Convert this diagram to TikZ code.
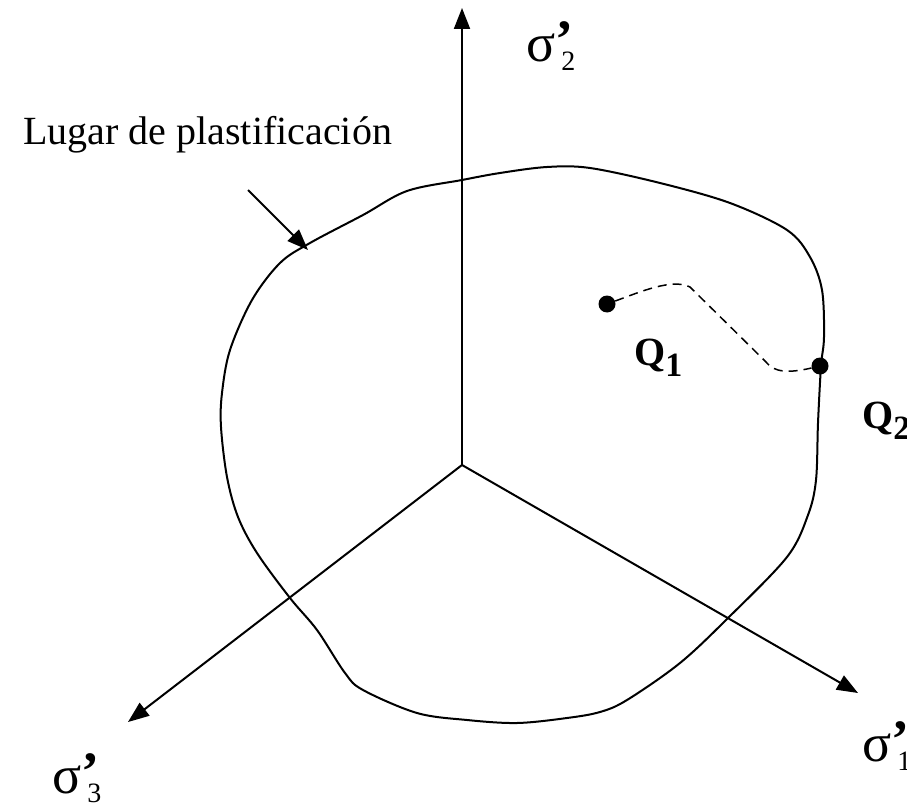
\documentclass[tikz,border=0pt]{standalone}
\usepackage{fontspec}
\setmainfont{Liberation Serif}
\usetikzlibrary{arrows.meta}

\newcommand{\sig}[1]{{\fontsize{54}{54}\selectfont σ\raisebox{4pt}{\bfseries ’}}\kern-12pt\raisebox{-9pt}{\fontsize{28}{28}\selectfont #1}}
\newcommand{\qpt}[1]{\textbf{Q\raisebox{-11pt}{\fontsize{34}{34}\selectfont #1}}}

\begin{document}
\begin{tikzpicture}[
    x=1pt, y=-1pt,
    % Style definitions
    axis/.style={line width=2pt, -{Triangle[length=21pt, width=16pt]}},
    yieldline/.style={line width=2pt},
    loadpath/.style={line width=1.5pt, dash pattern=on 9pt off 6pt},
    pointer/.style={line width=2pt, -{Triangle[length=21pt, width=16pt]}},
    lbl/.style={font=\fontsize{40}{48}\selectfont, inner sep=0pt},
    dot/.style={circle, fill=black, inner sep=0pt, minimum size=17pt},
]
\useasboundingbox (0,0) rectangle (907,805);

% Axes
\coordinate (O) at (462,465);
\coordinate (s1end) at (858,693);
\coordinate (s2end) at (462,8);
\coordinate (s3end) at (128,722);
\draw[axis] (O) -- (s2end);
\draw[axis] (O) -- (s3end);
\draw[axis] (O) -- (s1end);

\node[lbl, anchor=base west] (s2) at (526,62) {\sig{2}};
\node[lbl, anchor=base west] (s3) at (52,793) {\sig{3}};
\node[lbl, anchor=base west] (s1) at (862,761) {\sig{1}};

% Yield locus
\draw[yieldline] plot[smooth cycle, tension=0.55] coordinates {
    (462,180) (500,173) (547,167) (590,168) (660,183) (730,203) (787,230)
    (810,257) (822,290) (824,337) (821,366) (818,423) (816,480) (808,515)
    (787,557) (728,618) (680,663) (627,700) (600,712) (567,718) (517,723)
    (467,720) (417,713) (363,690) (345,673) (317,630) (290,598) (257,553)
    (238,517) (227,477) (221,427) (222,393) (230,350) (252,300) (280,263)
    (310,243) (363,215) (407,191)};

\node[lbl, anchor=base west] (lugar) at (23,145) {Lugar de plastificación};
\coordinate (lugartail) at (248,190);
\coordinate (lugartip) at (308,250);
\draw[pointer] (lugartail) -- (lugartip);

% Stress points
\node[dot] (Q1) at (607,304) {};
\node[dot] (Q2) at (820,366) {};
\node[lbl, anchor=base west] (Q1lbl) at (634,365) {\qpt{1}};
\node[lbl, anchor=base west] (Q2lbl) at (862,428) {\qpt{2}};

\draw[loadpath] (Q1) .. controls (640,292) and (672,278) .. (690,287)
    -- (766,362) .. controls (774,373) and (790,373) .. (Q2);

\end{tikzpicture}
\end{document}
